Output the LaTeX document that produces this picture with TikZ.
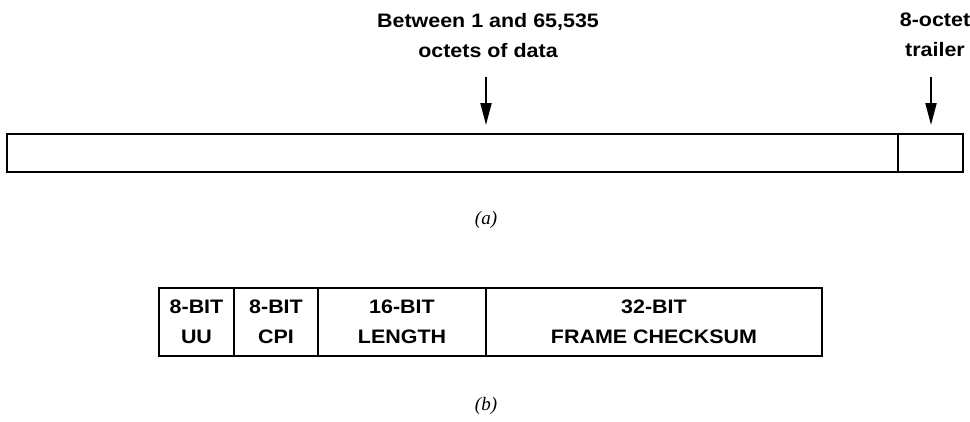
\documentclass[tikz,border=0pt]{standalone}
\usepackage{fontspec}
\setmainfont{Liberation Sans}[FakeStretch=1.1]
\newfontfamily\capfont{Liberation Serif}
\usetikzlibrary{arrows.meta}
\tikzset{
  frame/.style={draw, line width=1.8pt, inner sep=0pt, outer sep=0pt, anchor=north west},
  lbl/.style={font=\fontsize{19.5}{30}\selectfont\bfseries, align=center, inner sep=0pt},
  capt/.style={font=\capfont\itshape\fontsize{19}{22}\selectfont, inner sep=0pt},
  arr/.style={line width=2pt, -{Triangle[length=22pt,width=11pt]}, shorten >=9pt},
}
\begin{document}
\begin{tikzpicture}[x=1pt,y=-1pt]
\useasboundingbox (0,0) rectangle (970,421);
% (a)
\node[frame, minimum width=891pt, minimum height=38pt] (data) at (7,134) {};
\node[frame, minimum width=65pt, minimum height=38pt] (trailer) at (data.north east) {};
\node[lbl, anchor=north] (datalbl) at (488,13) {Between 1 and 65,535\\octets of data};
\node[lbl, anchor=north] (traillbl) at (935,13) {8-octet\\trailer};
\coordinate (s1) at (486,77);
\coordinate (s2) at (931,77);
\draw[arr] (s1) -- (s1 |- data.north);
\draw[arr] (s2) -- (s2 |- trailer.north);
\node[capt] (capa) at (486,220) {(a)};
% (b)
\node[frame, minimum width=75pt, minimum height=68pt, lbl] (uu) at (159,288) {8-BIT\\UU};
\node[frame, minimum width=84pt, minimum height=68pt, lbl] (cpi) at (uu.north east) {8-BIT\\CPI};
\node[frame, minimum width=168pt, minimum height=68pt, lbl] (len) at (cpi.north east) {16-BIT\\LENGTH};
\node[frame, minimum width=336pt, minimum height=68pt, lbl] (crc) at (len.north east) {32-BIT\\FRAME CHECKSUM};
\node[capt] (capb) at (486,406) {(b)};
\end{tikzpicture}
\end{document}
